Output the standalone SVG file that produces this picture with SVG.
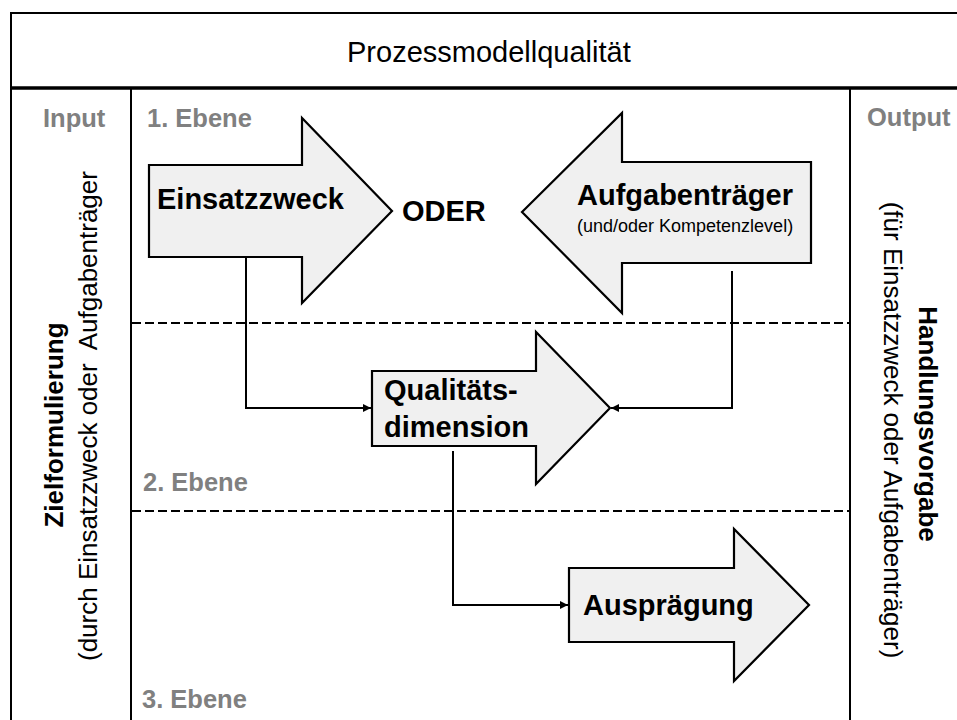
<svg xmlns="http://www.w3.org/2000/svg" width="957" height="720" viewBox="0 0 957 720">
<defs>
<style>
text{font-family:"Liberation Sans",Arial,Helvetica,sans-serif;fill:#000}
.title{font-size:29px}
.lbl{font-size:29px;font-weight:bold}
.sub{font-size:18px}
.gray{font-size:25.5px;font-weight:bold;fill:#808080}
.side{font-size:26px}
.sideb{font-size:26px;font-weight:bold}
.frame{fill:none;stroke:#000;stroke-width:2}
.dash{fill:none;stroke:#000;stroke-width:2;stroke-dasharray:9 4}
.shape{fill:#f0f0f0;stroke:#000;stroke-width:2.2;stroke-linejoin:miter}
.conn{fill:none;stroke:#000;stroke-width:2}
</style>
<marker id="ah" viewBox="0 0 10 10" refX="10" refY="5" markerWidth="9" markerHeight="8" markerUnits="userSpaceOnUse" orient="auto">
<path d="M0,0 L10,5 L0,10 z" fill="#000"/>
</marker>
</defs>
<rect x="0" y="0" width="957" height="720" fill="#fff"/>
<g id="frame">
<rect class="frame" x="11" y="13" width="950" height="720"/>
<line x1="11" y1="88" x2="960" y2="88" stroke="#000" stroke-width="3.5"/>
<line class="frame" x1="131" y1="88" x2="131" y2="722"/>
<line class="frame" x1="850" y1="88" x2="850" y2="722"/>
<line class="dash" x1="132" y1="323" x2="849" y2="323"/>
<line class="dash" x1="132" y1="511" x2="849" y2="511"/>
<text class="title" x="347" y="62">Prozessmodellqualität</text>
<text class="gray" x="43" y="127">Input</text>
<text class="gray" x="867" y="126">Output</text>
<text class="gray" x="147" y="127">1. Ebene</text>
<text class="gray" x="143" y="491">2. Ebene</text>
<text class="gray" x="142" y="708">3. Ebene</text>
</g>
<g id="input-text">
<text class="sideb" transform="translate(63,425) rotate(-90)" text-anchor="middle">Zielformulierung</text>
<text class="side" xml:space="preserve" transform="translate(97,661) rotate(-90)">(durch Einsatzzweck oder  Aufgabenträger</text>
</g>
<g id="output-text">
<text class="sideb" transform="translate(919,424) rotate(90)" text-anchor="middle">Handlungsvorgabe</text>
<text class="side" transform="translate(884,430) rotate(90)" text-anchor="middle">(für Einsatzzweck oder Aufgabenträger)</text>
</g>
<g id="connectors">
<path class="conn" d="M246,257 V408 H371" marker-end="url(#ah)"/>
<path class="conn" d="M732,271 V408 H611" marker-end="url(#ah)"/>
<path class="conn" d="M453,451 V605 H568" marker-end="url(#ah)"/>
</g>
<g id="einsatzzweck">
<polygon class="shape" points="149,165 302,165 302,118 392,211 302,303 302,257 149,257"/>
<text class="lbl" x="157" y="209">Einsatzzweck</text>
</g>
<g id="oder">
<text class="lbl" x="402" y="221">ODER</text>
</g>
<g id="aufgabentraeger">
<polygon class="shape" points="522,212 622,113 622,162 811,162 811,263 622,263 622,313"/>
<text class="lbl" x="577" y="205">Aufgabenträger</text>
<text class="sub" x="577" y="232">(und/oder Kompetenzlevel)</text>
</g>
<g id="qualitaetsdimension">
<polygon class="shape" points="372,371 536,371 536,332 610,408 536,484 536,446 372,446"/>
<text class="lbl" x="384" y="400">Qualitäts-</text>
<text class="lbl" x="384" y="437">dimension</text>
</g>
<g id="auspraegung">
<polygon class="shape" points="569,568 734,568 734,529 809,605 734,681 734,642 569,642"/>
<text class="lbl" x="583" y="615">Ausprägung</text>
</g>
</svg>
